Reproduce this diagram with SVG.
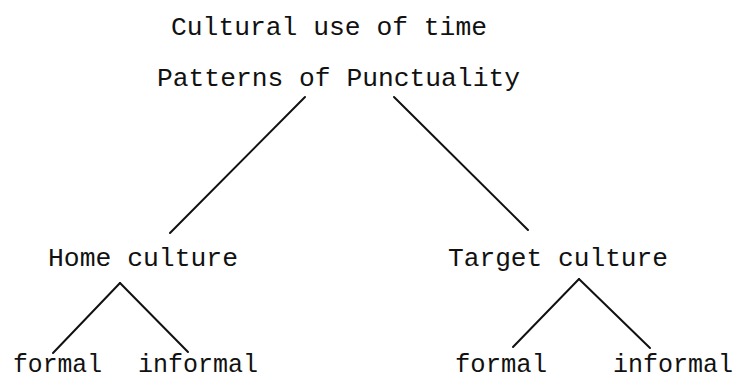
<svg xmlns="http://www.w3.org/2000/svg" width="737" height="379" viewBox="0 0 737 379">
<style>
text{font-family:"Liberation Mono","DejaVu Sans Mono",monospace;font-size:26px;fill:#111}
.b{font-size:25px}
.c line{stroke:#111;stroke-width:2;stroke-linecap:round}
</style>
<rect width="737" height="379" fill="#fff"/>
<g id="title"><text x="171" y="35" textLength="316" lengthAdjust="spacingAndGlyphs">Cultural use of time</text></g>
<g id="root"><text x="157" y="86" textLength="363" lengthAdjust="spacingAndGlyphs">Patterns of Punctuality</text></g>
<g id="home"><text x="48" y="266" textLength="190" lengthAdjust="spacingAndGlyphs">Home culture</text></g>
<g id="target"><text x="448" y="266" textLength="220" lengthAdjust="spacingAndGlyphs">Target culture</text></g>
<g id="home-formal"><text class="b" x="13" y="372" textLength="89" lengthAdjust="spacingAndGlyphs">formal</text></g>
<g id="home-informal"><text class="b" x="138" y="372" textLength="120" lengthAdjust="spacingAndGlyphs">informal</text></g>
<g id="target-formal"><text class="b" x="455" y="372" textLength="92" lengthAdjust="spacingAndGlyphs">formal</text></g>
<g id="target-informal"><text class="b" x="613" y="372" textLength="120" lengthAdjust="spacingAndGlyphs">informal</text></g>
<g class="c" id="connectors">
<line x1="305" y1="97" x2="170" y2="233"/>
<line x1="394" y1="97" x2="528" y2="230"/>
<line x1="120" y1="283" x2="53" y2="353"/>
<line x1="120" y1="283" x2="188" y2="352"/>
<line x1="579" y1="279" x2="513" y2="347"/>
<line x1="579" y1="279" x2="650" y2="348"/>
</g>
</svg>
